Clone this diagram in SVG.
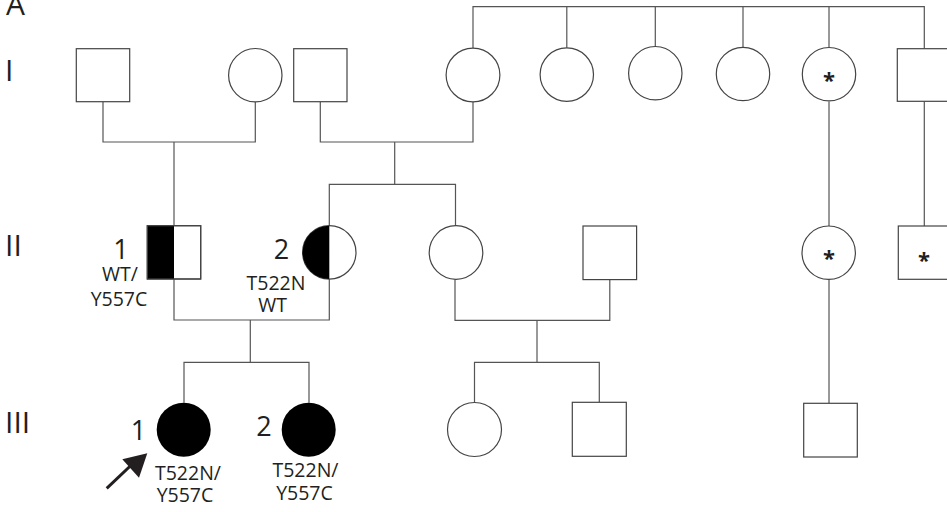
<svg xmlns="http://www.w3.org/2000/svg" width="947" height="512" viewBox="0 0 947 512">
<defs>
<style>
.n{fill:#fff;stroke:#444;stroke-width:1.2}
.f{fill:#000}
.c{fill:none;stroke:#555;stroke-width:1.2}
.t{font-family:"Open Sans","Liberation Sans",sans-serif;fill:#231f20}
.g{font-size:30px}
.d{font-size:27px;text-anchor:middle}
.m{font-size:19.5px;text-anchor:middle}
.s{font-size:22px;text-anchor:middle;font-weight:700}
</style>
</defs>
<rect width="947" height="512" fill="#fff"/>
<g id="generation-labels" class="t g">
<text x="6" y="15">A</text>
<text x="5" y="81">I</text>
<text x="5" y="256">II</text>
<text x="5" y="433">III</text>
</g>
<g id="connectors" class="c">
<path d="M103,101.7 V142 H255.3 V101.7"/>
<path d="M174,142 V225.7"/>
<path d="M320.3,101.7 V142 H473 V101.7"/>
<path d="M394.7,142 V184.3"/>
<path d="M329.3,225.7 V184.3 H455.5 V225.7"/>
<path d="M473,48 V6.7 H924.3 V48.7"/>
<path d="M566.8,6.7 V47.8"/>
<path d="M655.3,6.7 V46.5"/>
<path d="M743,6.7 V47.3"/>
<path d="M829,6.7 V47.5"/>
<path d="M829,101.5 V226"/>
<path d="M924.3,101.3 V226"/>
<path d="M174,279 V320 H329.3 V279"/>
<path d="M250.3,320 V362.3"/>
<path d="M184,402.7 V362.3 H309 V402.7"/>
<path d="M455,279.3 V320.3 H609.8 V279.7"/>
<path d="M537,320.3 V362.3"/>
<path d="M474.5,402.3 V362.3 H599.3 V402.3"/>
<path d="M829,279.3 V403.3"/>
</g>
<g id="I-1"><rect class="n" x="76.3" y="48.7" width="53.4" height="53"/></g>
<g id="I-2"><circle class="n" cx="255.3" cy="75.2" r="26.7"/></g>
<g id="I-3"><rect class="n" x="293.7" y="48.7" width="53.3" height="53"/></g>
<g id="I-4"><circle class="n" cx="473" cy="75" r="26.9"/></g>
<g id="I-5"><circle class="n" cx="566.8" cy="74.6" r="26.7"/></g>
<g id="I-6"><circle class="n" cx="655.3" cy="73.2" r="26.7"/></g>
<g id="I-7"><circle class="n" cx="743" cy="74" r="26.7"/></g>
<g id="I-8"><circle class="n" cx="829" cy="74.2" r="26.7"/><text class="t s" x="829" y="88">*</text></g>
<g id="I-9"><rect class="n" x="897.3" y="48.7" width="53" height="52.6"/></g>
<g id="II-1">
<rect class="n" x="147.3" y="225.7" width="53.4" height="53.3"/>
<rect class="f" x="147.3" y="225.7" width="26.7" height="53.3"/>
<rect x="147.3" y="225.7" width="53.4" height="53.3" fill="none" stroke="#444" stroke-width="1.2"/>
<text class="t d" x="121" y="259.3">1</text>
<text class="t m" x="120" y="281">WT/</text>
<text class="t m" x="119" y="306">Y557C</text>
</g>
<g id="II-2">
<circle class="n" cx="329.3" cy="252.4" r="26.7"/>
<path class="f" d="M329.3,225.7 A26.7,26.7 0 0 0 329.3,279.1 Z"/>
<text class="t d" x="281.5" y="259.3">2</text>
<text class="t m" x="276" y="290">T522N</text>
<text class="t m" x="272.5" y="311.7">WT</text>
</g>
<g id="II-3"><circle class="n" cx="456" cy="252.5" r="26.8"/></g>
<g id="II-4"><rect class="n" x="583" y="226" width="53.6" height="53.6"/></g>
<g id="II-5"><circle class="n" cx="828.7" cy="252.7" r="26.7"/><text class="t s" x="829" y="266">*</text></g>
<g id="II-6"><rect class="n" x="898.3" y="226" width="53" height="53.3"/><text class="t s" x="924" y="268">*</text></g>
<g id="III-1">
<circle class="f" cx="183.7" cy="429.7" r="27"/>
<text class="t d" x="138.5" y="439.5">1</text>
<text class="t m" x="188" y="480">T522N/</text>
<text class="t m" x="185" y="501.7">Y557C</text>
</g>
<g id="III-2">
<circle class="f" cx="308.7" cy="429.7" r="27"/>
<text class="t d" x="264" y="435.5">2</text>
<text class="t m" x="305.5" y="477.3">T522N/</text>
<text class="t m" x="304.5" y="500">Y557C</text>
</g>
<g id="III-3"><circle class="n" cx="474.5" cy="429.5" r="27"/></g>
<g id="III-4"><rect class="n" x="572.3" y="402.3" width="54" height="54"/></g>
<g id="III-5"><rect class="n" x="803.7" y="403.3" width="53.6" height="53.7"/></g>
<g id="proband-arrow">
<line x1="106.7" y1="488.3" x2="134" y2="462.5" stroke="#231f20" stroke-width="3"/>
<path d="M147.3,453.3 L139,477.7 L122.3,459.3 Z" fill="#231f20"/>
</g>
</svg>
